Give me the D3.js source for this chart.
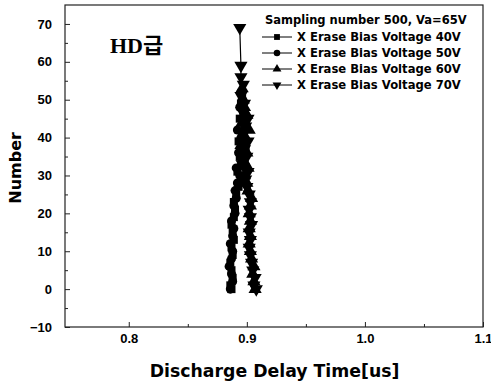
<!DOCTYPE html>
<html>
<head>
<meta charset="utf-8">
<script src="https://cdn.jsdelivr.net/npm/d3@7"></script>
<style>
  body { margin: 0; background: #fff; }
  text { fill: #000; }
</style>
</head>
<body>
<svg id="chart"></svg>
<script>
// Chart size params
var W = 491, H = 387;
var margin = {top: 5, right: 8, bottom: 60, left: 65};
var width = W - margin.left - margin.right;
var height = H - margin.top - margin.bottom;

// Data: discharge delay time (us) vs number, one list per series
var names = ["X Erase Bias Voltage 40V", "X Erase Bias Voltage 50V",
             "X Erase Bias Voltage 60V", "X Erase Bias Voltage 70V"];
var symbols = [d3.symbolSquare, d3.symbolCircle, d3.symbolTriangle, d3.symbolTriangle];

var y40 = [0,1,3,5,7,9,11,13,15,17,19,21,23,25,27,29,31,33,35,37,39,41,43,45,47,49,51];
var x40 = [0.887,0.886,0.888,0.887,0.886,0.888,0.887,0.889,0.888,0.887,0.889,0.890,0.889,0.891,0.893,0.895,0.892,0.897,0.894,0.899,0.893,0.896,0.898,0.894,0.897,0.895,0.896];

var y50 = [0,2,4,6,8,10,12,14,16,18,20,22,24,26,28,30,32,34,36,38,40,42,44,46,48,50,52];
var x50 = [0.886,0.888,0.887,0.885,0.887,0.888,0.886,0.888,0.889,0.887,0.890,0.889,0.891,0.890,0.892,0.894,0.891,0.896,0.893,0.898,0.895,0.892,0.897,0.899,0.894,0.896,0.895];

var y60 = [0,2,4,6,8,10,12,14,16,18,20,22,24,26,28,30,32,34,36,38,40,42,44,46,48,50,53];
var x60 = [0.907,0.906,0.905,0.906,0.904,0.903,0.902,0.903,0.902,0.903,0.902,0.903,0.904,0.901,0.900,0.898,0.901,0.897,0.900,0.895,0.899,0.902,0.896,0.900,0.898,0.897,0.896];

var y70 = [0,1,3,5,7,9,11,13,15,17,19,21,23,25,27,29,31,33,35,37,39,41,43,45,47,49,51,54,56,59,69];
var x70 = [0.908,0.906,0.907,0.905,0.904,0.903,0.902,0.903,0.902,0.904,0.903,0.902,0.903,0.902,0.900,0.899,0.901,0.896,0.900,0.898,0.901,0.897,0.899,0.901,0.896,0.898,0.895,0.897,0.895,0.895,0.894];

var xs = [x40, x50, x60, x70];
var ys = [y40, y50, y60, y70];

var xTicks = [0.8, 0.9, 1.0, 1.1];
var xMinor = [0.85, 0.95, 1.05];
var yTicks = [-10, 0, 10, 20, 30, 40, 50, 60, 70];
var yMinor = [-5, 5, 15, 25, 35, 45, 55, 65];

// d3 scales
var x = d3.scaleLinear().domain([0.746, 1.1]).range([0, width]);
var y = d3.scaleLinear().domain([-10, 75]).range([height, 0]);

var svg = d3.select("#chart")
    .attr("width", W)
    .attr("height", H)
  .append("g")
    .attr("transform", "translate(" + margin.left + "," + margin.top + ")");

// Frame
svg.append("rect")
  .attr("width", width)
  .attr("height", height)
  .attr("fill", "none")
  .attr("stroke", "#222")
  .attr("stroke-width", 1.2);

// Axes with inward ticks
var xAxis = svg.append("g")
    .attr("transform", "translate(0," + height + ")")
    .call(d3.axisBottom(x).tickValues(xTicks).tickSize(-5).tickPadding(7)
      .tickFormat(d3.format(".1f")));
var xAxisMinor = svg.append("g")
    .attr("transform", "translate(0," + height + ")")
    .call(d3.axisBottom(x).tickValues(xMinor).tickSize(-3).tickFormat(""));
var yAxis = svg.append("g")
    .call(d3.axisLeft(y).tickValues(yTicks).tickSize(-5).tickPadding(13));
var yAxisMinor = svg.append("g")
    .call(d3.axisLeft(y).tickValues(yMinor).tickSize(-3).tickFormat(""));

[xAxis, xAxisMinor, yAxis, yAxisMinor].forEach(function(a) {
  a.select(".domain").remove();
  a.selectAll("line").attr("stroke", "#222");
  a.selectAll("text")
    .attr("font-family", "Liberation Sans, Arial, sans-serif")
    .attr("font-weight", "bold")
    .attr("font-size", 13)
    .attr("fill", "#000");
});

// last x label sits on the window edge; keep it inside
xAxis.selectAll(".tick text")
  .filter(function(d) { return d === 1.1; })
  .attr("text-anchor", "end")
  .attr("dx", 9);

// Axis titles
svg.append("text")
  .attr("x", x(0.9235))
  .attr("y", height + 50)
  .attr("text-anchor", "middle")
  .attr("font-family", "DejaVu Sans, Verdana, sans-serif")
  .attr("font-weight", "bold")
  .attr("font-size", 17.3)
  .text("Discharge Delay Time[us]");

svg.append("text")
  .attr("transform", "translate(" + (-44) + "," + y(32) + ")rotate(-90)")
  .attr("text-anchor", "middle")
  .attr("font-family", "DejaVu Sans, Verdana, sans-serif")
  .attr("font-weight", "bold")
  .attr("font-size", 16)
  .text("Number");

// HD label
svg.append("text")
  .attr("x", 45)
  .attr("y", 48)
  .attr("font-family", "Liberation Serif, Noto Sans CJK KR, serif")
  .attr("font-weight", "bold")
  .attr("font-size", 22)
  .text("HD급");

// Series
var line = d3.line()
  .x(function(d) { return x(d[0]); })
  .y(function(d) { return y(d[1]); });

xs.forEach(function(xv, i) {
  var pts = xv.map(function(v, j) { return [v, ys[i][j]]; });
  var g = svg.append("g").attr("class", "series");
  g.append("path")
    .attr("d", line(pts))
    .attr("fill", "none")
    .attr("stroke", "#000")
    .attr("stroke-width", 1.2);
  g.selectAll("path.pt")
    .data(pts)
    .enter().append("path")
      .attr("class", "pt")
      .attr("transform", function(d) {
        return "translate(" + x(d[0]) + "," + y(d[1]) + ")" + (i == 3 ? "rotate(180)" : "");
      })
      .attr("d", d3.symbol().type(symbols[i]).size(i >= 2 ? 75 : 64))
      .attr("fill", "#000");
});

// Legend
var legend = svg.append("g")
  .attr("transform", "translate(" + (262 - margin.left) + "," + (20 - margin.top) + ")");

legend.append("text")
  .attr("x", 3)
  .attr("y", 4)
  .attr("font-family", "DejaVu Sans, Verdana, sans-serif")
  .attr("font-weight", "bold")
  .attr("font-size", 11.5)
  .text("Sampling number 500, Va=65V");

names.forEach(function(n, i) {
  var row = legend.append("g")
    .attr("transform", "translate(0," + (17 + i * 16) + ")");
  row.append("line")
    .attr("x1", 0).attr("x2", 30)
    .attr("stroke", "#000").attr("stroke-width", 1);
  row.append("path")
    .attr("transform", "translate(15,0)" + (i == 3 ? "rotate(180)" : ""))
    .attr("d", d3.symbol().type(symbols[i]).size(34))
    .attr("fill", "#000");
  row.append("text")
    .attr("x", 35)
    .attr("y", 4)
    .attr("font-family", "DejaVu Sans, Verdana, sans-serif")
    .attr("font-weight", "bold")
    .attr("font-size", 11.6)
    .text(n);
});
</script>
</body>
</html>
